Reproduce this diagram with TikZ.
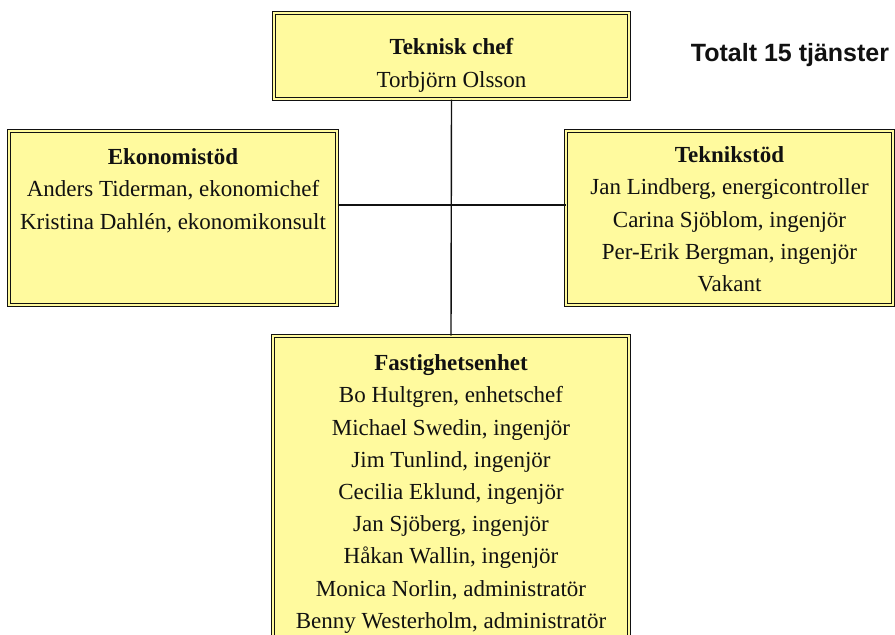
\documentclass[tikz,border=0pt]{standalone}
\usepackage{fontspec}
\setmainfont{Liberation Serif}
\newfontfamily\totalfont{Liberation Sans}
\usetikzlibrary{positioning}
\definecolor{UnitFill}{HTML}{FFFA9E}
\definecolor{UnitInk}{HTML}{111111}
\tikzset{
  orgchart/.style={x=1pt,y=-1pt,text=UnitInk},
  unit/.style={draw=UnitInk,line width=1pt,double=UnitFill,double distance=1.6pt,fill=UnitFill,inner sep=0pt},
  roster/.style={align=center,inner sep=0pt,font=\fontsize{23}{32.2}\selectfont},
  link/.style={draw=UnitInk,line width=1.4pt},
}

\begin{document}
\begin{tikzpicture}[orgchart]
  \clip (0,0) rectangle (895,635);

  % boxes
  \node[unit,minimum width=355pt,minimum height=86pt] (chef) at (451.5,56) {};
  \node[unit,minimum width=328pt,minimum height=174pt] (ekonomi) at (173,218) {};
  \node[unit,minimum width=327pt,minimum height=174pt] (teknik) at (729.5,218) {};
  \node[unit,minimum width=356pt,minimum height=330pt] (fastighet) at (451,501) {};

  % texts
  \node[roster,below=26pt of chef.north] (chefnamn)
    {\textbf{Teknisk chef}\\Torbjörn Olsson};
  \node[roster,below=18pt of ekonomi.north] (ekonominamn)
    {\textbf{Ekonomistöd}\\Anders Tiderman, ekonomichef\\Kristina Dahlén, ekonomikonsult};
  \node[roster,below=16pt of teknik.north] (tekniknamn)
    {\textbf{Teknikstöd}\\Jan Lindberg, energicontroller\\Carina Sjöblom, ingenjör\\Per-Erik Bergman, ingenjör\\Vakant};
  \node[roster,below=19pt of fastighet.north] (fastighetnamn)
    {\textbf{Fastighetsenhet}\\Bo Hultgren, enhetschef\\Michael Swedin, ingenjör\\Jim Tunlind, ingenjör\\Cecilia Eklund, ingenjör\\Jan Sjöberg, ingenjör\\Håkan Wallin, ingenjör\\Monica Norlin, administratör\\Benny Westerholm, administratör};

  \node[font=\totalfont\bfseries\fontsize{25}{30}\selectfont] (totalt) at (790,55) {Totalt 15 tjänster};

  % lines
  \coordinate (nav) at (451,205);
  \draw[link] (chef.south) -- (fastighet.north);
  \draw[link] (nav -| ekonomi.east) -- (nav -| teknik.west);
\end{tikzpicture}
\end{document}
